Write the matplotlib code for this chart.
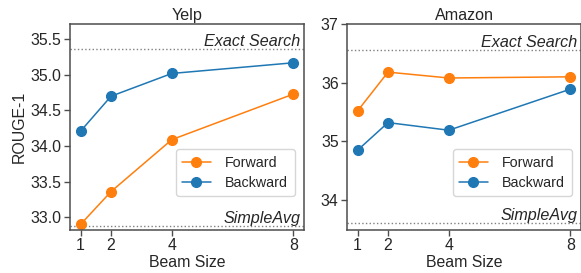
import numpy as np
import matplotlib
matplotlib.use("Agg")
import matplotlib.pyplot as plt
import seaborn as sns

beam_sizes = [1, 2, 4, 8]

yelp_forward = [32.90, 33.36, 34.09, 34.73]
yelp_backward = [34.21, 34.70, 35.02, 35.17]
yelp_exact = 35.37
yelp_simple = 32.87

amazon_forward = [35.52, 36.18, 36.08, 36.10]
amazon_backward = [34.85, 35.32, 35.19, 35.89]
amazon_exact = 36.56
amazon_simple = 33.61

sns.set_style("ticks")
plt.rcParams["font.family"] = ["Liberation Sans", "DejaVu Sans"]
plt.rcParams["font.size"] = 11.4

fig = plt.figure(figsize=(5.81, 2.73), dpi=100)
ax1 = fig.add_axes([0.1205, 0.1575, 0.4028, 0.7546])
ax2 = fig.add_axes([0.5972, 0.1575, 0.4028, 0.7546])


def draw(ax, fwd, bwd, exact, simple, title, ylim, yticks, fmt):
    ax.axhline(exact, color="gray", ls=":", lw=1)
    ax.axhline(simple, color="gray", ls=":", lw=1)
    ax.plot(beam_sizes, fwd, "-o", color="#ff7f0e", lw=1.1, ms=7, label="Forward")
    ax.plot(beam_sizes, bwd, "-o", color="#1f77b4", lw=1.1, ms=7, label="Backward")
    ax.set_ylim(*ylim)
    ax.set_yticks(yticks)
    ax.set_yticklabels([fmt % v for v in yticks])
    ax.set_xticks(beam_sizes)
    ax.set_xlim(0.65, 8.35)
    ax.set_title(title, fontsize=11.6, pad=3)
    ax.set_xlabel("Beam Size", labelpad=1)
    ax.text(0.985, exact, "Exact Search", transform=ax.get_yaxis_transform(),
            ha="right", va="bottom", style="italic", fontsize=11.6)
    ax.text(0.985, simple, "SimpleAvg", transform=ax.get_yaxis_transform(),
            ha="right", va="bottom", style="italic", fontsize=11.6)
    ax.legend(loc="lower right", bbox_to_anchor=(0.99, 0.13), borderpad=0.45,
              handletextpad=1.0, labelspacing=0.4, fontsize=10.3)
    for s in ax.spines.values():
        s.set_color(".3")
        s.set_linewidth(1.1)
    ax.tick_params(length=4, width=1, color=".3", pad=2, labelcolor=".15")


draw(ax1, yelp_forward, yelp_backward, yelp_exact, yelp_simple, "Yelp",
     (32.82, 35.715), [33.0, 33.5, 34.0, 34.5, 35.0, 35.5], "%.1f")
draw(ax2, amazon_forward, amazon_backward, amazon_exact, amazon_simple, "Amazon",
     (33.49, 37.0), [34, 35, 36, 37], "%d")
ax1.set_ylabel("ROUGE-1", labelpad=3)

fig.savefig("out.png", dpi=100)
